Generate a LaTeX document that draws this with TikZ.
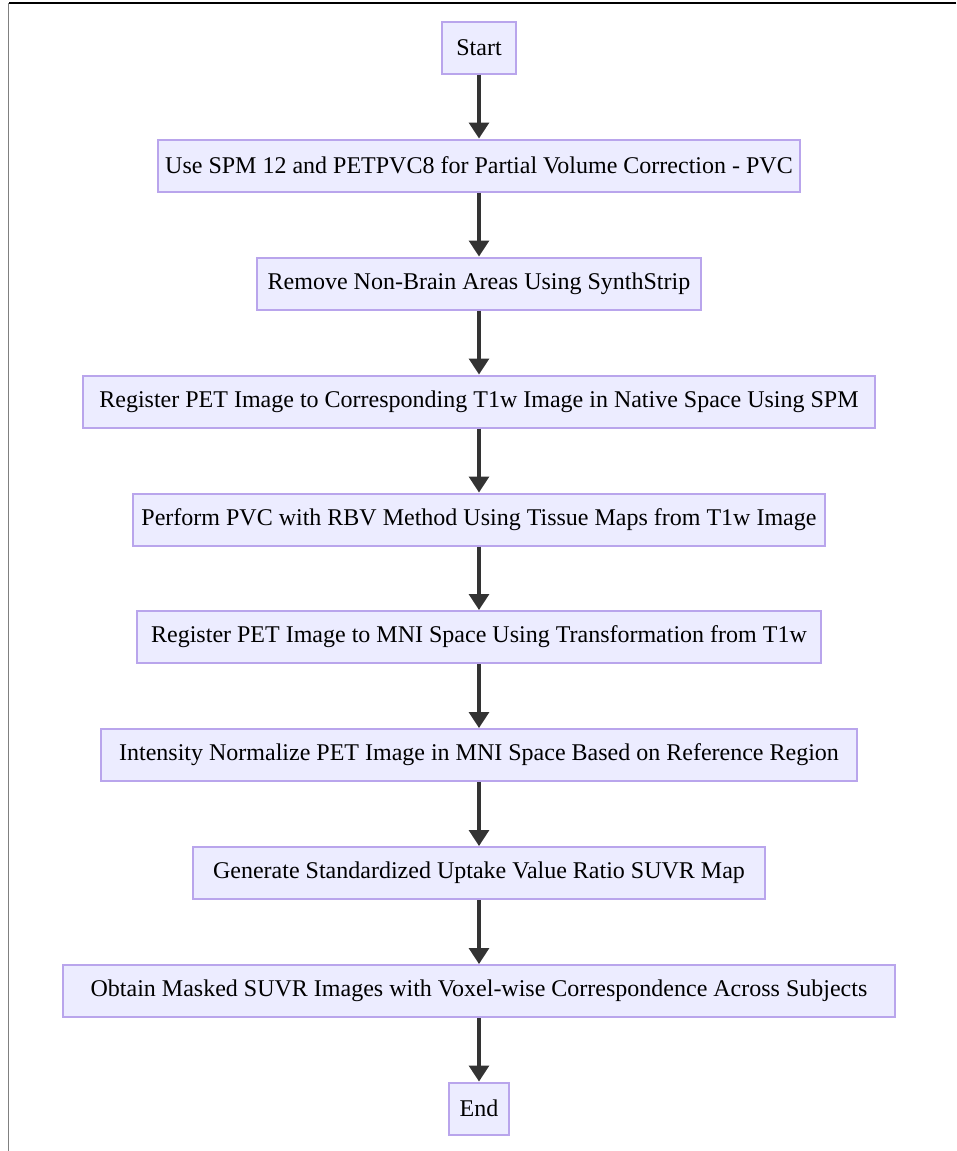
\documentclass[tikz,border=0pt]{standalone}
\usepackage{fontspec}
\setmainfont{Liberation Serif}
\usepackage{tikz}
\usetikzlibrary{positioning,arrows.meta}
\definecolor{stepfill}{HTML}{ECECFF}
\definecolor{stepline}{HTML}{B9A5EC}
\definecolor{flowline}{HTML}{333333}
\tikzset{
    step box/.style = {
        draw=stepline,
        fill=stepfill,
        shape=rectangle,
        line width=2pt,
        inner sep=0pt,
        minimum height=52pt,
        font=\rmfamily\fontsize{24}{28}\selectfont
    },
    flow/.style = {
        draw=flowline,
        line width=3.2pt,
        -{Triangle[width=20pt,length=16pt]}
    },
    frame/.style = {
        line width=1.5pt
    },
}

\begin{document}
\begin{tikzpicture}[x=1pt,y=-1pt]
                \useasboundingbox (0,0) rectangle (956,1151);
                \path[draw, frame] (956,3) -- (8.5,3);
                \path[draw, frame, color=gray] (8.5,3) -- (8.5,1151);

                \node[step box, minimum width=74pt] (start) at (479,47.5) {Start};
                \node[step box, minimum width=642pt] (pvc) at (479,165.5) {Use SPM 12 and PETPVC8 for Partial Volume Correction - PVC};
                \node[step box, minimum width=444pt] (strip) at (479,283.5) {Remove Non-Brain Areas Using SynthStrip};
                \node[step box, minimum width=792pt] (regt1) at (479,401.5) {Register PET Image to Corresponding T1w Image in Native Space Using SPM};
                \node[step box, minimum width=692pt] (rbv) at (479,519.5) {Perform PVC with RBV Method Using Tissue Maps from T1w Image};
                \node[step box, minimum width=684pt] (regmni) at (479,637) {Register PET Image to MNI Space Using Transformation from T1w};
                \node[step box, minimum width=756pt] (norm) at (479,755) {Intensity Normalize PET Image in MNI Space Based on Reference Region};
                \node[step box, minimum width=572pt] (suvr) at (479,873) {Generate Standardized Uptake Value Ratio SUVR Map};
                \node[step box, minimum width=832pt] (mask) at (479,991) {Obtain Masked SUVR Images with Voxel-wise Correspondence Across Subjects};
                \node[step box, minimum width=60pt] (end) at (479,1108.5) {End};

                \path[flow] (start) -- (pvc);
                \path[flow] (pvc) -- (strip);
                \path[flow] (strip) -- (regt1);
                \path[flow] (regt1) -- (rbv);
                \path[flow] (rbv) -- (regmni);
                \path[flow] (regmni) -- (norm);
                \path[flow] (norm) -- (suvr);
                \path[flow] (suvr) -- (mask);
                \path[flow] (mask) -- (end);
            \end{tikzpicture}
\end{document}
